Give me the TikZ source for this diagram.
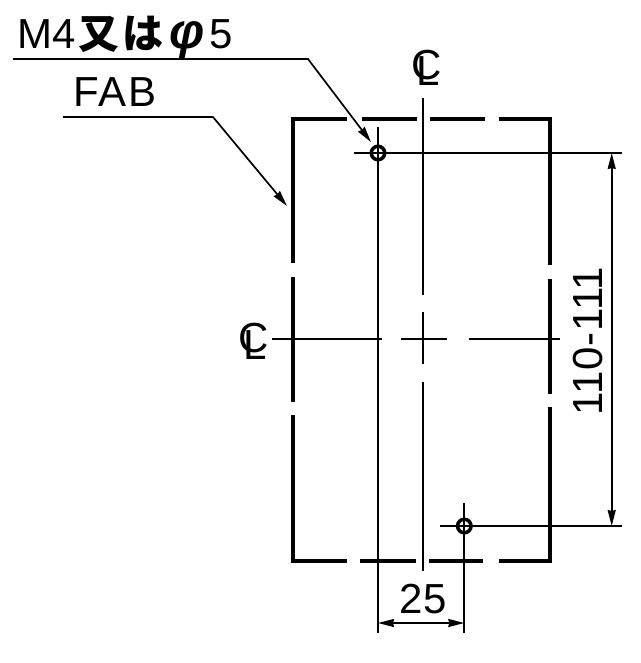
\documentclass[tikz,border=0pt]{standalone}
\usepackage{fontspec}
\setmainfont{Liberation Sans}
\newfontfamily\cjkfont{Noto Sans CJK JP}
\newfontfamily\widefont[LetterSpace=5]{Liberation Sans}
\newfontfamily\wideb[LetterSpace=1.5]{Liberation Sans}
\usetikzlibrary{arrows.meta}
\newcommand{\clmark}{\rlap{C}\hspace{5.5pt}\raisebox{-6.5pt}{L}}
\tikzset{
  body/.style={line width=3.6pt,line join=miter,line cap=butt},
  thinline/.style={line width=2pt},
  leader/.style={line width=1.7pt},
  tip/.style={-{Stealth[length=16pt,width=8pt,inset=1pt]}},
  dimline/.style={line width=1.7pt,{Stealth[length=16pt,width=8pt,inset=1pt]}-{Stealth[length=16pt,width=8pt,inset=1pt]}},
  hole/.style={circle,draw,line width=3.5pt,minimum size=13.5pt,inner sep=0pt},
  lbl/.style={inner sep=0pt,font=\fontsize{42}{42}\selectfont}
}
\begin{document}
\begin{tikzpicture}[x=1pt,y=-1pt]
\useasboundingbox (0,0) rectangle (640,663);
% body outline
\draw[body] (347,119) -- (293,119) -- (293,263);
\draw[body] (293,277) -- (293,402);
\draw[body] (293,415) -- (293,561) -- (347,561);
\draw[body] (362,119) -- (417,119);
\draw[body] (430,119) -- (485,119);
\draw[body] (499,119) -- (550,119) -- (550,265);
\draw[body] (550,279) -- (550,394);
\draw[body] (550,407) -- (550,561) -- (499,561);
\draw[body] (483,561) -- (429,561);
\draw[body] (416,561) -- (360,561);
% centre lines
\draw[thinline] (423,98) -- (423,295);
\draw[thinline] (423,312) -- (423,364);
\draw[thinline] (423,382) -- (423,571);
\draw[thinline] (272,339) -- (382,339);
\draw[thinline] (401,339) -- (447,339);
\draw[thinline] (469,339) -- (560,339);
% holes
\node[hole] (h1) at (378,153) {};
\node[hole] (h2) at (464.3,526) {};
\coordinate (h1t) at (378,127);
\coordinate (h1b) at (378,633);
\coordinate (h1l) at (354,153);
\coordinate (h1r) at (622,153);
\coordinate (h2t) at (464.3,503);
\coordinate (h2b) at (464.3,633);
\coordinate (h2l) at (440,526);
\coordinate (h2r) at (622,526);
\draw[thinline] (h1t) -- (h1b);
\draw[thinline] (h1l) -- (h1r);
\draw[thinline] (h2t) -- (h2b);
\draw[thinline] (h2l) -- (h2r);
% dimensions
\coordinate (d1) at (611.7,153);
\coordinate (d2) at (611.7,526);
\draw[dimline] (d1) -- (d2);
\coordinate (d3) at (378,623);
\coordinate (d4) at (464.3,623);
\draw[dimline] (d3) -- (d4);
\node[lbl,anchor=base] (t25) at (423,613) {25};
\node[lbl,anchor=base,rotate=90] (t110) at (602,341) {\wideb 110-111};
% leaders
\coordinate (a0) at (13,59);
\coordinate (a1) at (308,59);
\coordinate (a2) at (371,142);
\draw[leader,tip] (a0) -- (a1) -- (a2);
\coordinate (b0) at (63,117);
\coordinate (b1) at (213,117);
\coordinate (b2) at (287,206);
\draw[leader,tip] (b0) -- (b1) -- (b2);
\node[lbl,anchor=base west] (tm) at (17,49) {M4\hspace{3pt}{\cjkfont\bfseries\fontsize{41}{41}\selectfont 又\hspace{3pt}は}\hspace{6pt}{\bfseries\itshape\fontsize{50}{50}\selectfont φ}\hspace{5pt}5};
\node[lbl,anchor=base west] (tf) at (73,107) {\widefont FAB};
% centre marks
\node[lbl,anchor=base west] (cl1) at (411,79.5) {\clmark};
\node[lbl,anchor=base west] (cl2) at (238,352.5) {\clmark};
\end{tikzpicture}
\end{document}
